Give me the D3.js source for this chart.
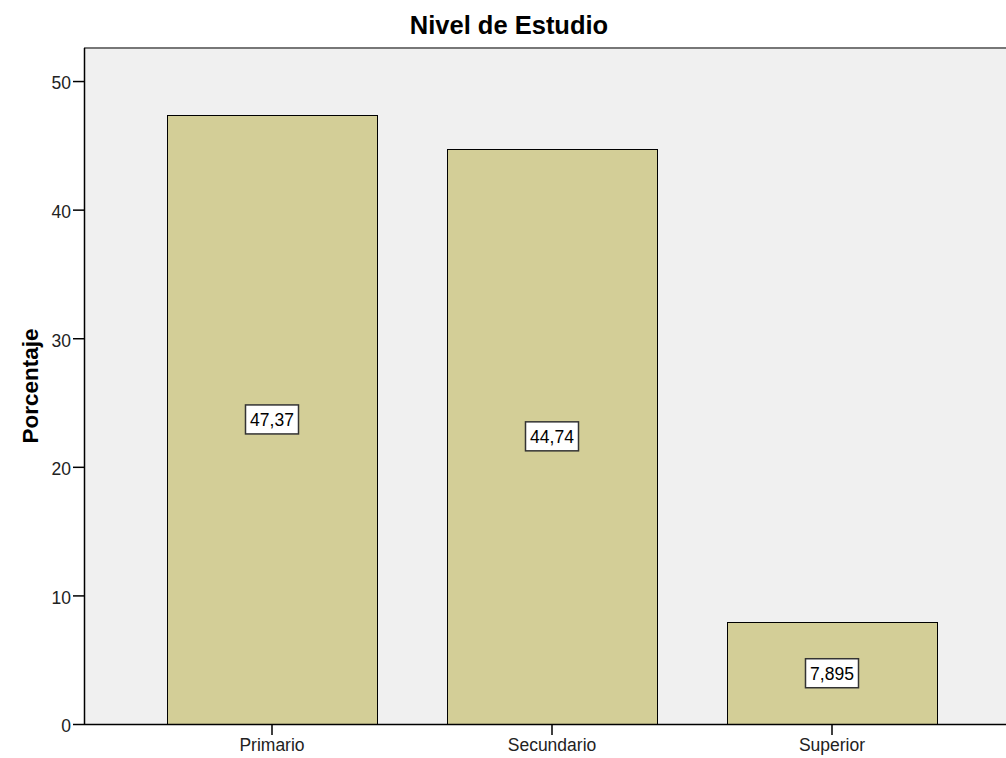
<!DOCTYPE html>
<html>
<head>
<meta charset="utf-8">
<script src="https://cdn.jsdelivr.net/npm/d3@7"></script>
<style>
  body { margin: 0; background: #fff; }
  text { font-family: Arial, "Liberation Sans", sans-serif; }
</style>
</head>
<body>
<div class="chart_container"></div>
<script>
var categories = ["Primario", "Secundario", "Superior"];
var values = [47.37, 44.74, 7.895];
var valueLabels = ["47,37", "44,74", "7,895"];
var yTicks = [0, 10, 20, 30, 40, 50];

var width = 1006, height = 758;
var plotLeft = 84, plotTop = 48, plotBottom = 724;

var svg = d3.select(".chart_container").append("svg")
    .attr("width", width)
    .attr("height", height);

var x = d3.scaleBand()
    .domain(categories)
    .range([132, 972])
    .paddingInner(0.25)
    .paddingOuter(0.125);

var y = d3.scaleLinear()
    .domain([0, 52.57])
    .range([plotBottom, plotTop]);

// plot background
svg.append("rect")
    .attr("x", plotLeft)
    .attr("y", plotTop)
    .attr("width", width - plotLeft + 2)
    .attr("height", plotBottom - plotTop)
    .style("fill", "#f0f0f0");

// top frame line
svg.append("line")
    .attr("x1", plotLeft).attr("x2", width)
    .attr("y1", plotTop).attr("y2", plotTop)
    .style("stroke", "#777")
    .style("stroke-width", 2);

// bars
svg.selectAll("rect.bar")
    .data(values)
    .enter().append("rect")
        .attr("class", "bar")
        .attr("x", (d, i) => x(categories[i]) + 0.5)
        .attr("y", d => Math.round(y(d)) + 0.5)
        .attr("width", x.bandwidth())
        .attr("height", d => plotBottom - Math.round(y(d)))
        .style("fill", "#d3ce97")
        .style("stroke", "#000")
        .style("stroke-width", 1);

// value labels
var labels = svg.selectAll("g.vlabel")
    .data(values)
    .enter().append("g")
        .attr("class", "vlabel")
        .attr("transform", (d, i) => "translate(" + (x(categories[i]) + x.bandwidth() / 2) + "," + ((y(d) + plotBottom) / 2) + ")");

labels.append("rect")
    .attr("x", -26.5)
    .attr("y", -14.5)
    .attr("width", 53)
    .attr("height", 29)
    .style("fill", "#fff")
    .style("stroke", "#333")
    .style("stroke-width", 1.5);

labels.append("text")
    .attr("text-anchor", "middle")
    .attr("dy", "0.36em")
    .style("font-size", "17.5px")
    .style("fill", "#000")
    .text((d, i) => valueLabels[i]);

// y axis
var yAxis = svg.append("g")
    .attr("transform", "translate(" + plotLeft + ",0)")
    .call(d3.axisLeft(y).tickValues(yTicks).tickSize(11).tickPadding(2).tickFormat(d3.format("d")));
yAxis.select(".domain").attr("d", "M0.5," + plotTop + "V" + (plotBottom + 0.5)).style("stroke", "#000").style("stroke-width", 1.5);
yAxis.selectAll(".tick line").style("stroke", "#000").style("stroke-width", 1.5);
yAxis.selectAll(".tick text").attr("dy", "0.45em").style("font-size", "17.5px").style("fill", "#222").style("font-family", "Arial, 'Liberation Sans', sans-serif");

// x axis
var xAxis = svg.append("g")
    .attr("transform", "translate(0," + plotBottom + ")")
    .call(d3.axisBottom(x).tickSize(11).tickPadding(4));
xAxis.select(".domain").attr("d", "M" + plotLeft + ",0.5H" + width).style("stroke", "#000").style("stroke-width", 1.5);
xAxis.selectAll(".tick line").style("stroke", "#000").style("stroke-width", 1.5);
xAxis.selectAll(".tick text").style("font-size", "17.5px").style("fill", "#222").style("font-family", "Arial, 'Liberation Sans', sans-serif");

// title
svg.append("text")
    .attr("x", 509)
    .attr("y", 34)
    .attr("text-anchor", "middle")
    .style("font-size", "25.5px")
    .style("font-weight", "bold")
    .style("fill", "#000")
    .text("Nivel de Estudio");

// y axis title
svg.append("text")
    .attr("transform", "translate(38,386) rotate(-90)")
    .attr("text-anchor", "middle")
    .style("font-size", "22.5px")
    .style("font-weight", "bold")
    .style("fill", "#000")
    .text("Porcentaje");
</script>
</body>
</html>
